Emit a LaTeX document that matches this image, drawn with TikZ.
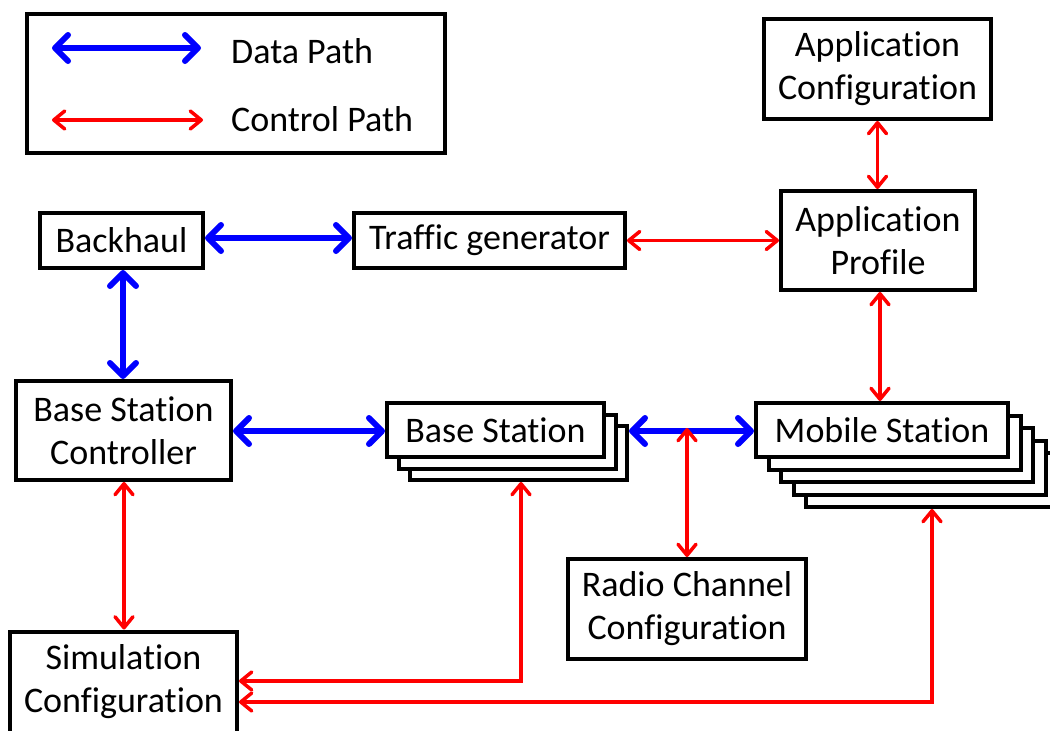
\documentclass[tikz,border=0pt]{standalone}
\usepackage{fontspec}
\setmainfont[Ligatures=NoCommon]{Carlito}
\usetikzlibrary{arrows.meta,calc}

\definecolor{datablue}{RGB}{0,0,255}
\definecolor{ctrlred}{RGB}{255,0,0}

\tikzset{
  box/.style={draw=black, line width=4pt, fill=white, align=center, inner sep=0pt,
    font=\fontsize{36}{43}\selectfont},
  datapath/.style={draw=datablue, line width=6pt,
    {Straight Barb[length=13pt, width=26pt, line cap=round, line join=round]}-{Straight Barb[length=13pt, width=26pt, line cap=round, line join=round]}},
  ctrlpath/.style={draw=ctrlred, line width=3.5pt, line join=miter,
    {Straight Barb[length=11pt, width=18pt, line cap=round, line join=round]}-{Straight Barb[length=11pt, width=18pt, line cap=round, line join=round]}},
  legendtext/.style={anchor=base west, inner sep=0pt, font=\fontsize{36}{43}\selectfont},
}

\begin{document}
\begin{tikzpicture}[x=1pt, y=-1pt]
\useasboundingbox (0,0) rectangle (1050,731);

% legend
\node[draw=black, line width=4pt, minimum width=418pt, minimum height=139pt, inner sep=0pt]
  (legend) at (236,83.5) {};
\coordinate (dl) at (52,48);
\coordinate (dr) at (201,48);
\coordinate (cl) at (52,120);
\coordinate (cr) at (203,120);
\draw[datapath] (dl) -- (dr);
\draw[ctrlpath] (cl) -- (cr);
\node[legendtext] (datalabel) at (231,63) {Data Path};
\node[legendtext] (ctrllabel) at (231,131) {Control Path};

% boxes
\node[box, minimum width=227pt, minimum height=100pt] (appconf) at (877.5,69) {Application\\Configuration};
\node[box, minimum width=194pt, minimum height=99pt] (appprof) at (878,240.5) {Application\\Profile};
\node[box, minimum width=163pt, minimum height=55pt] (backhaul) at (121.5,240.5) {Backhaul};
\node[box, minimum width=271pt, minimum height=55pt] (traffic) at (489.5,240.5) {Traffic generator};
\node[box, minimum width=215pt, minimum height=99pt] (bsc) at (123.5,430.5) {Base Station\\Controller};
\node[box, minimum width=238pt, minimum height=100pt] (radio) at (687,609) {Radio Channel\\Configuration};
\node[box, minimum width=227pt, minimum height=101pt] (simconf) at (123.5,682) {Simulation\\Configuration};

% stacked base stations
\node[box, minimum width=217pt, minimum height=54pt] (bs3) at (518.5,453) {};
\node[box, minimum width=217pt, minimum height=54pt] (bs2) at (507,441.5) {};
\node[box, minimum width=217pt, minimum height=54pt] (bs) at (495.5,430) {Base Station};

% stacked mobile stations
\node[box, minimum width=252pt, minimum height=54pt] (ms5) at (932,480) {};
\node[box, minimum width=252pt, minimum height=54pt] (ms4) at (919.5,467.5) {};
\node[box, minimum width=252pt, minimum height=54pt] (ms3) at (907,455) {};
\node[box, minimum width=252pt, minimum height=54pt] (ms2) at (894.5,442.5) {};
\node[box, minimum width=252pt, minimum height=54pt] (ms) at (882,430) {Mobile Station};

% data paths
\draw[datapath] (backhaul.east |- 0,238) -- (traffic.west |- 0,238);
\draw[datapath] (123,0 |- backhaul.south) -- (123,0 |- bsc.north);
\draw[datapath] (bsc.east |- 0,431) -- (bs.west |- 0,431);
\draw[datapath] (bs3.east |- 0,431) -- (ms.west |- 0,431);

% control paths
\coordinate (radiojoin) at (687,428);
\draw[ctrlpath] (radiojoin) -- (radio.north);
\draw[ctrlpath] (traffic.east) -- (appprof.west |- traffic.east);
\draw[ctrlpath] (appconf.south) -- (appconf.south |- appprof.north);
\draw[ctrlpath] (880,0 |- appprof.south) -- (880,0 |- ms.north);
\draw[ctrlpath] (124,0 |- bsc.south) -- (124,0 |- simconf.north);
\coordinate (bsturn) at (521,681);
\coordinate (msturn) at (932,702);
\draw[ctrlpath] (simconf.east |- bsturn) -- (bsturn) -- (bsturn |- bs3.south);
\draw[ctrlpath] (simconf.east |- msturn) -- (msturn) -- (msturn |- ms5.south);
\end{tikzpicture}
\end{document}
